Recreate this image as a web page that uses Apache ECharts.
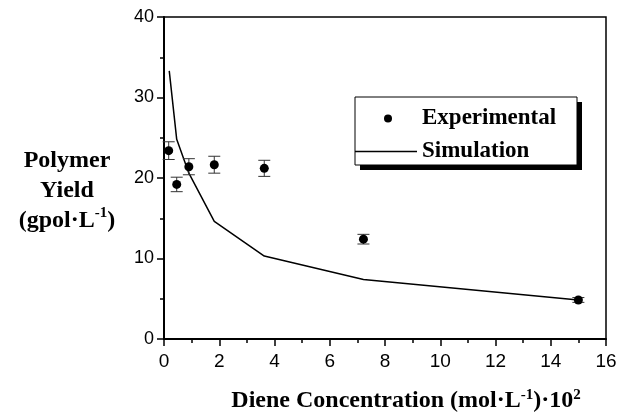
<!DOCTYPE html>
<html>
<head>
<meta charset="utf-8">
<script src="https://cdn.jsdelivr.net/npm/echarts@6/dist/echarts.min.js"></script>
<style>
html,body{margin:0;padding:0;background:#fff;}
#chart{width:620px;height:413px;}
</style>
</head>
<body>
<div id="chart"></div>
<script>
// Data
const expX = [0.17, 0.46, 0.9, 1.82, 3.63, 7.22, 15.0];
const expY = [23.4, 19.2, 21.4, 21.65, 21.2, 12.4, 4.85];
const expErr = [1.1, 0.9, 1.0, 1.05, 1.0, 0.6, 0.3];
const simX = [0.19, 0.46, 0.9, 1.82, 3.63, 7.22, 15.0];
const simY = [33.3, 24.8, 20.6, 14.6, 10.3, 7.4, 4.85];
const xTicks = [0, 2, 4, 6, 8, 10, 12, 14, 16];
const yTicks = [0, 10, 20, 30, 40];

const chart = echarts.init(document.getElementById('chart'), null, {renderer: 'canvas'});
const serif = '"Liberation Serif", "Times New Roman", serif';
const sans = '"Liberation Sans", Arial, sans-serif';

const option = {
  animation: false,
  backgroundColor: '#fff',
  grid: {left: 164, right: 14, top: 17, bottom: 74, outerBoundsMode: 'none', containLabel: false,
         show: true, borderColor: '#000', borderWidth: 1.5, backgroundColor: 'transparent'},
  graphic: [
    {type: 'rect', shape: {x: 360, y: 102, width: 222, height: 68}, style: {fill: '#000'}, z: 10},
    {type: 'rect', shape: {x: 355, y: 97, width: 222, height: 68}, style: {fill: '#fff', stroke: '#000', lineWidth: 1}, z: 11}
  ],
  legend: [
    {data: [{name: 'Experimental', icon: 'circle'}], left: 384, top: 107, padding: 0, itemWidth: 8, itemHeight: 8, z: 20,
     itemStyle: {opacity: 1},
     textStyle: {fontFamily: serif, fontWeight: 'bold', fontSize: 23, color: '#000', lineHeight: 22, padding: [0, 0, 0, 25]}},
    {data: [{name: 'Simulation', icon: 'rect'}], left: 355, top: 140, padding: 0, itemWidth: 62, itemHeight: 1.5, z: 20,
     textStyle: {fontFamily: serif, fontWeight: 'bold', fontSize: 23, color: '#000', lineHeight: 22}}
  ],
  xAxis: {
    type: 'value', min: xTicks[0], max: xTicks[xTicks.length - 1], interval: 2,
    name: 'Diene Concentration (mol·L{sup|-1})·10{sup|2}',
    nameLocation: 'middle', nameGap: 49,
    nameTextStyle: {fontFamily: serif, fontWeight: 'bold', fontSize: 24, color: '#000', padding: [0, 0, 0, 42],
      rich: {sup: {fontFamily: serif, fontWeight: 'bold', fontSize: 15, verticalAlign: 'top', padding: [0, 0, 11, 0], color: '#000'}}},
    axisLine: {show: true, lineStyle: {color: '#000', width: 2}},
    axisTick: {show: true, inside: false, length: 7, lineStyle: {color: '#000', width: 1.5}},
    minorTick: {show: true, splitNumber: 2, length: 4, lineStyle: {color: '#000', width: 1.5}},
    axisLabel: {fontFamily: sans, fontSize: 19, color: '#000', margin: 13},
    splitLine: {show: false}
  },
  yAxis: {
    type: 'value', min: yTicks[0], max: yTicks[yTicks.length - 1], interval: 10,
    name: 'Polymer\nYield\n(gpol·L{sup|-1})',
    nameLocation: 'middle', nameRotate: 0, nameGap: 97,
    nameTextStyle: {fontFamily: serif, fontWeight: 'bold', fontSize: 24, color: '#000', lineHeight: 30, align: 'center', verticalAlign: 'middle', padding: [26, 0, 0, 0],
      rich: {sup: {fontFamily: serif, fontWeight: 'bold', fontSize: 15, lineHeight: 30, verticalAlign: 'top', padding: [0, 0, 8, 0], color: '#000'}}},
    axisLine: {show: true, lineStyle: {color: '#000', width: 2}},
    axisTick: {show: true, inside: false, length: 7, lineStyle: {color: '#000', width: 1.5}},
    minorTick: {show: true, splitNumber: 2, length: 4, lineStyle: {color: '#000', width: 1.5}},
    axisLabel: {fontFamily: sans, fontSize: 18, color: '#000', margin: 10},
    splitLine: {show: false}
  },
  series: [
    {
      name: 'Simulation', type: 'line', symbol: 'none',
      data: simX.map((x, i) => [x, simY[i]]),
      lineStyle: {color: '#000', width: 1.5}, itemStyle: {color: '#000'}, z: 3
    },
    {
      name: 'ErrorBars', type: 'custom',
      data: expX.map((x, i) => [x, expY[i] - expErr[i], expY[i] + expErr[i]]),
      renderItem: function (params, api) {
        const x = api.value(0);
        const lo = api.coord([x, api.value(1)]);
        const hi = api.coord([x, api.value(2)]);
        const hw = 6;
        const st = {stroke: '#333', lineWidth: 1};
        return {type: 'group', children: [
          {type: 'line', shape: {x1: lo[0], y1: lo[1], x2: hi[0], y2: hi[1]}, style: st},
          {type: 'line', shape: {x1: lo[0] - hw, y1: lo[1], x2: lo[0] + hw, y2: lo[1]}, style: st},
          {type: 'line', shape: {x1: hi[0] - hw, y1: hi[1], x2: hi[0] + hw, y2: hi[1]}, style: st}
        ]};
      },
      z: 4, silent: true
    },
    {
      name: 'Experimental', type: 'scatter', symbol: 'circle', symbolSize: 9,
      data: expX.map((x, i) => [x, expY[i]]),
      itemStyle: {color: '#000', opacity: 1}, z: 5
    }
  ]
};
chart.setOption(option);
</script>
</body>
</html>
